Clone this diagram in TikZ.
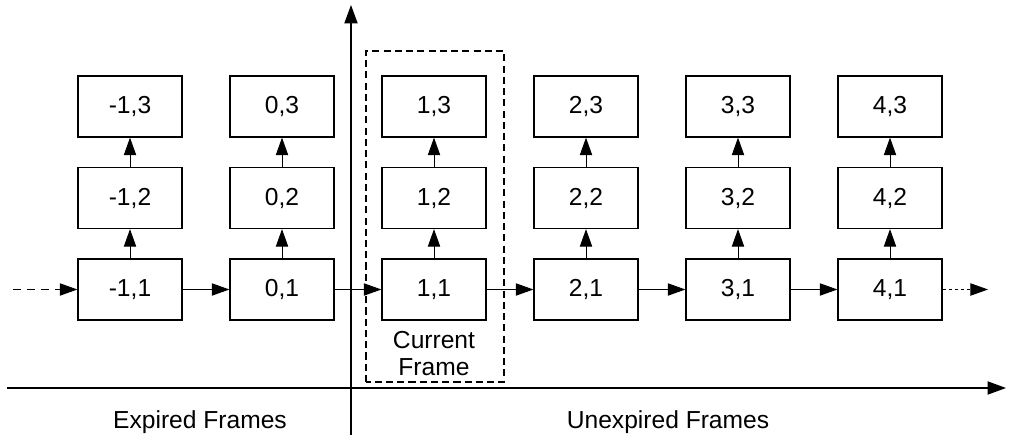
\documentclass[tikz,border=0pt]{standalone}
\usepackage{fontspec}
\setmainfont{Liberation Sans}
\usetikzlibrary{arrows.meta,positioning}
\tikzset{
    frame box/.style={draw,line width=0.7pt,minimum width=2.08cm,minimum height=1.22cm,inner sep=0pt},
    arr/.style={-{Triangle[length=10pt,width=7pt]},line width=0.55pt},
    axis arr/.style={-{Triangle[length=10.5pt,width=7.5pt]},line width=0.75pt},
    lead dash/.style={dash pattern=on 4.5pt off 3.4pt},
    trail dash/.style={dash pattern=on 2pt off 1.4pt},
    current outline/.style={draw,line width=0.7pt,dash pattern=on 4pt off 2.4pt},
}
\tikzstyle{every node}=[font=\fontsize{14}{15.5}\selectfont]

\begin{document}
\begin{tikzpicture}
    \useasboundingbox (0,0) rectangle (20.18,8.78);
    % frame stack per column
    \foreach \c in {0,...,5}{
        \pgfmathtruncatemacro\fr{\c-1}
        \foreach \r in {1,2,3}{
            \node[frame box] (n\c-\r) at ({2.6+3.04*\c},{2.99+1.83*(\r-1)}) {\fr,\r};
        }
        \draw[arr] (n\c-1) -- (n\c-2);
        \draw[arr] (n\c-2) -- (n\c-3);
    }
    \foreach \c [evaluate=\c as \nx using int(\c+1)] in {0,...,4}{
        \draw[arr] (n\c-1) -- (n\nx-1);
    }
    \coordinate (in) at (0.26,2.99);
    \coordinate (out) at (19.76,2.99);
    \draw[arr,lead dash] (in) -- (n0-1);
    \draw[arr,trail dash] (n5-1) -- (out);

    % axes
    \coordinate (ybot) at (7.02,0.08);
    \coordinate (ytop) at (7.02,8.68);
    \coordinate (xleft) at (0.14,1.02);
    \coordinate (xright) at (20.12,1.02);
    \draw[axis arr] (ybot) -- (ytop);
    \draw[axis arr] (xleft) -- (xright);

    % current frame
    \node[align=center] (cur) at ([yshift=-0.66cm]n2-1.south) {Current\\Frame};
    \draw[current outline] (7.32,1.14) rectangle (10.08,7.76);

    \node (expired) at (4.0,0.34) {Expired Frames};
    \node (unexpired) at (13.36,0.34) {Unexpired Frames};
\end{tikzpicture}
\end{document}
